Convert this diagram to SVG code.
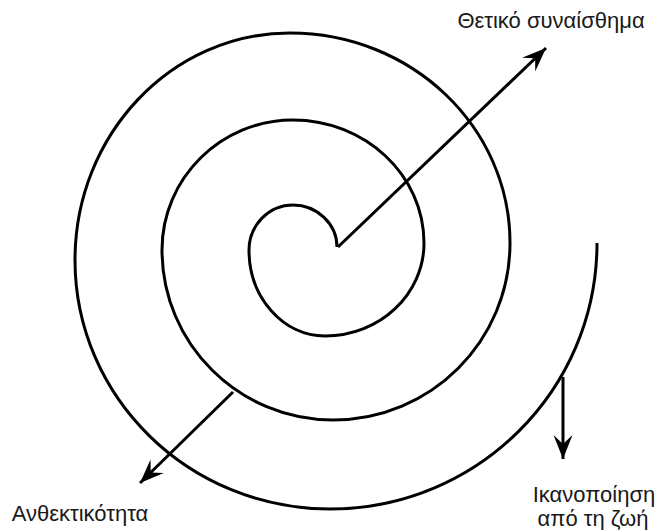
<svg xmlns="http://www.w3.org/2000/svg" width="656" height="530" viewBox="0 0 656 530">
  <style>
    .line { fill: none; stroke: #000; stroke-width: 3; }
    .lbl { font-family: "Liberation Sans", Arial, sans-serif; font-size: 22px; fill: #1a1a1a; text-anchor: middle; }
  </style>
  <defs>
    <marker id="arrow" markerUnits="userSpaceOnUse" markerWidth="30" markerHeight="24" viewBox="-26 -12 30 24" refX="0" refY="0" orient="auto">
      <path d="M0,0 L-24,-9.5 L-15,0 L-24,9.5 Z" fill="#000"/>
    </marker>
  </defs>
  <rect width="656" height="530" fill="#fff"/>
  <g id="spiral">
    <path class="line" d="M337,247 C337,224 317,205 293,205 C269,205 249,225 249,250 C249,297.5 283,336 325,336 C380,336 424,294 424,243 C424,175 365,120 293,120 C221,120 162,178 162,250 C162,344 239,420 333,420 C431,420 510,341 510,243 C510,127 411.5,33 290,33 C171,33 75,135 75,260 C75,397.5 189,509 330,509 C477.5,509 597,390 597,243"/>
  </g>
  <g id="connectors">
    <line class="line" x1="338" y1="247" x2="546" y2="48" marker-end="url(#arrow)"/>
    <line class="line" x1="233" y1="392" x2="140" y2="483" marker-end="url(#arrow)"/>
    <line class="line" x1="563" y1="377" x2="563" y2="459" marker-end="url(#arrow)"/>
  </g>
  <g id="label-positive">
    <text class="lbl" x="551" y="28">Θετικό συναίσθημα</text>
  </g>
  <g id="label-resilience">
    <text class="lbl" x="80" y="521">Ανθεκτικότητα</text>
  </g>
  <g id="label-satisfaction">
    <text class="lbl" x="594" y="502">Ικανοποίηση</text>
    <text class="lbl" x="593" y="526">από τη ζωή</text>
  </g>
</svg>
